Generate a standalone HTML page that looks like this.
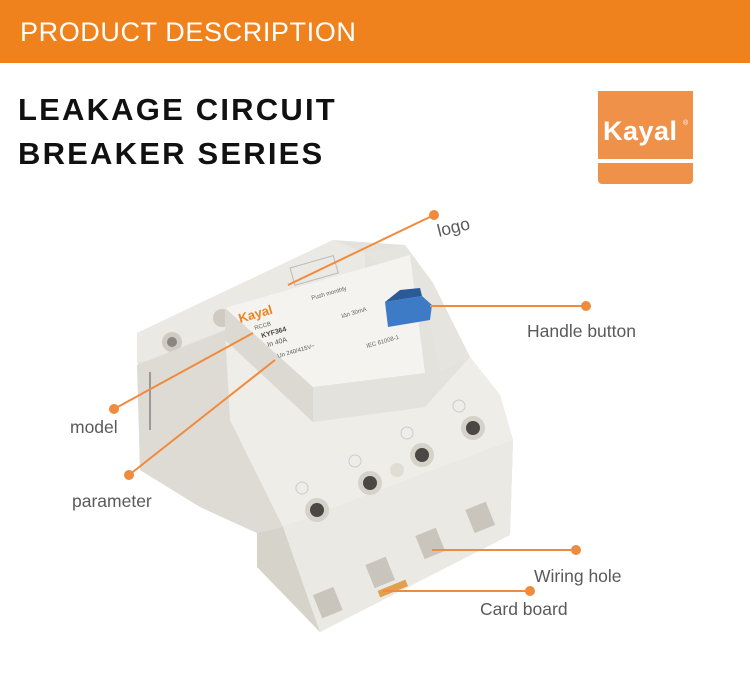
<!DOCTYPE html>
<html><head><meta charset="utf-8"><style>
body{margin:0;width:750px;height:680px;background:#fff;overflow:hidden;font-family:"Liberation Sans",sans-serif;position:relative}
.hdr{position:absolute;left:0;top:0;width:750px;height:63px;background:#f0821e}
.hdr span{position:absolute;left:20px;top:17px;color:#fff;font-size:27px;letter-spacing:0.6px}
.t{position:absolute;left:18px;font-weight:bold;font-size:31px;color:#111;letter-spacing:2.2px}
.lb{position:absolute;color:#5a5a5a;font-size:17.5px}
</style></head><body>
<div class="hdr"><span>PRODUCT DESCRIPTION</span></div>
<div class="t" style="top:92px">LEAKAGE CIRCUIT</div>
<div class="t" style="top:136px">BREAKER SERIES</div>
<div style="position:absolute;left:598px;top:91px;width:95px;height:68px;background:#f0914a"></div>
<div style="position:absolute;left:598px;top:163px;width:95px;height:21px;background:#f0914a;border-radius:0 0 4px 4px"></div>
<div style="position:absolute;left:603px;top:116px;color:#fff;font-weight:bold;font-size:27px;letter-spacing:0.5px">Kayal</div>
<div style="position:absolute;left:683px;top:120px;color:#fff;font-size:7px">®</div>
<svg width="750" height="680" style="position:absolute;left:0;top:0">
<!-- silhouette -->
<polygon points="137,333 333,240 405,245 433,283 470,357 500,395 513,440 510,535 320,632 257,567 257,533 200,507 140,470" fill="#e4e2dc"/>
<!-- back plate -->
<polygon points="137,333 333,240 365,253 365,268 180,358 137,362" fill="#ebe9e3"/>
<circle cx="172" cy="342" r="10" fill="#cfcbc2"/><circle cx="172" cy="342" r="5" fill="#8a8680"/>
<circle cx="222" cy="318" r="9" fill="#cfcbc2"/>
<!-- right rear block -->
<polygon points="365,253 405,245 433,283 470,357 440,372 425,300" fill="#e6e4de"/>
<!-- left main side -->
<polygon points="137,365 225,330 230,420 283,527 257,533 200,507 140,470" fill="#dedbd4"/>
<line x1="150" y1="372" x2="150" y2="430" stroke="#999" stroke-width="2"/>
<!-- terminal top face -->
<polygon points="225,330 313,422 425,407 470,357 500,395 513,440 283,527 230,420" fill="#efede8"/>
<!-- cover sides -->
<polygon points="225,308 313,387 313,422 225,340" fill="#dcd9d2"/>
<polygon points="313,387 425,373 425,407 313,422" fill="#e4e2dc"/>
<!-- label face -->
<polygon points="225,308 410,255 425,373 313,387" fill="#f4f3ef"/>
<text x="240" y="323" fill="#f0821e" font-size="13" font-weight="bold" transform="rotate(-16 240 323)">Kayal</text>
<text x="255" y="330" fill="#666" font-size="6" transform="rotate(-16 255 330)">RCCB</text>
<text x="262" y="338" fill="#444" font-size="7" font-weight="bold" transform="rotate(-16 262 338)">KYF364</text>
<text x="268" y="347" fill="#555" font-size="7" transform="rotate(-16 268 347)">In 40A</text>
<text x="278" y="358" fill="#555" font-size="6" transform="rotate(-16 278 358)">Un 240/415V~</text>
<text x="312" y="300" fill="#666" font-size="6" transform="rotate(-16 312 300)">Push monthly</text>
<text x="342" y="318" fill="#666" font-size="6" transform="rotate(-16 342 318)">I∆n 30mA</text>
<text x="367" y="348" fill="#666" font-size="6" transform="rotate(-16 367 348)">IEC 61008-1</text>
<rect x="290" y="268" width="45" height="18" fill="none" stroke="#bbb" transform="rotate(-16 290 268)"/>
<!-- handle -->
<polygon points="385,302 422,296 432,305 430,320 388,327" fill="#3d7bc6"/>
<polygon points="385,302 400,290 420,288 422,296" fill="#2a5a98"/>
<!-- lower module -->
<polygon points="257,533 283,527 320,632 257,567" fill="#d6d3cb"/>
<polygon points="283,527 513,440 510,535 320,632" fill="#ebe9e3"/>
<circle cx="317" cy="510" r="12" fill="#d5d2ca"/><circle cx="317" cy="510" r="7" fill="#4a4744"/>
<circle cx="370" cy="483" r="12" fill="#d5d2ca"/><circle cx="370" cy="483" r="7" fill="#4a4744"/>
<circle cx="422" cy="455" r="12" fill="#d5d2ca"/><circle cx="422" cy="455" r="7" fill="#4a4744"/>
<circle cx="473" cy="428" r="12" fill="#d5d2ca"/><circle cx="473" cy="428" r="7" fill="#4a4744"/>
<circle cx="397" cy="470" r="7" fill="#e0ddd5"/>
<circle cx="302" cy="488" r="6" fill="none" stroke="#ccc"/><circle cx="355" cy="461" r="6" fill="none" stroke="#ccc"/><circle cx="407" cy="433" r="6" fill="none" stroke="#ccc"/><circle cx="459" cy="406" r="6" fill="none" stroke="#ccc"/>
<rect x="317" y="590" width="22" height="25" fill="#c9c5bc" transform="rotate(-22 328 603)"/>
<rect x="369" y="560" width="22" height="25" fill="#c9c5bc" transform="rotate(-22 380 572)"/>
<rect x="419" y="531" width="22" height="25" fill="#c9c5bc" transform="rotate(-22 430 543)"/>
<rect x="469" y="505" width="22" height="25" fill="#c9c5bc" transform="rotate(-22 480 517)"/>
<rect x="378" y="585" width="30" height="7" fill="#e0a050" transform="rotate(-22 393 589)"/>
<!-- connectors -->
<g stroke="#f08a3c" stroke-width="2" fill="#f08a3c">
<line x1="434" y1="215" x2="288" y2="285"/><circle cx="434" cy="215" r="4"/>
<line x1="430" y1="306" x2="586" y2="306"/><circle cx="586" cy="306" r="4"/>
<line x1="114" y1="409" x2="253" y2="333"/><circle cx="114" cy="409" r="4"/>
<line x1="129" y1="475" x2="275" y2="360"/><circle cx="129" cy="475" r="4"/>
<line x1="432" y1="550" x2="576" y2="550"/><circle cx="576" cy="550" r="4"/>
<line x1="383" y1="591" x2="530" y2="591"/><circle cx="530" cy="591" r="4"/>
</g>
</svg>
<div class="lb" style="left:437px;top:217px;transform:rotate(-14deg)">logo</div>
<div class="lb" style="left:527px;top:321px">Handle button</div>
<div class="lb" style="left:70px;top:417px">model</div>
<div class="lb" style="left:72px;top:491px">parameter</div>
<div class="lb" style="left:534px;top:566px">Wiring hole</div>
<div class="lb" style="left:480px;top:599px">Card board</div>
</body></html>
